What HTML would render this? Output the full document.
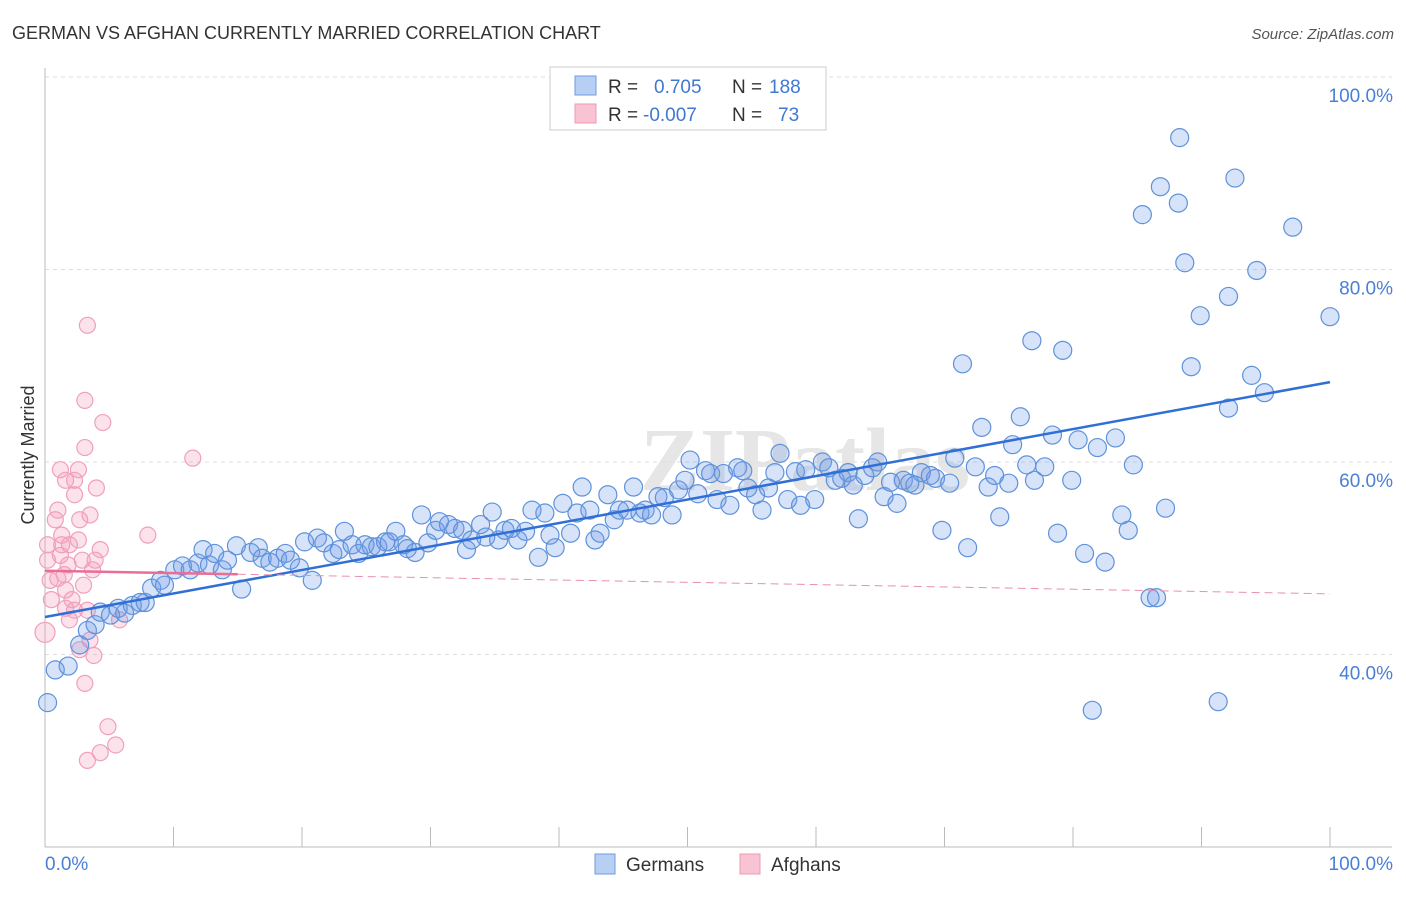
<!DOCTYPE html>
<html><head><meta charset="utf-8"><style>
body{margin:0;background:#fff;font-family:"Liberation Sans",sans-serif;}
</style></head><body>
<svg width="1406" height="892" xmlns="http://www.w3.org/2000/svg" id="chart">
<text x="12" y="39" font-size="18" fill="#333">GERMAN VS AFGHAN CURRENTLY MARRIED CORRELATION CHART</text>
<text x="1394" y="39" font-size="15" fill="#555" text-anchor="end" font-style="italic">Source: ZipAtlas.com</text>
<text x="640" y="490" font-size="90" fill="#e6e6e6" font-family="Liberation Serif" font-weight="bold">ZIPatlas</text>
<text transform="translate(34,455) rotate(-90)" font-size="18" fill="#333" text-anchor="middle">Currently Married</text>
<g id="grid"></g><g id="marks"></g><g id="trends"></g>
<g>
<rect x="550" y="67" width="276" height="63" fill="#fff" stroke="#ccc"/>
<rect x="575" y="76" width="21" height="19" fill="#b7cff3" stroke="#6d9be0"/>
<rect x="575" y="104" width="21" height="19" fill="#f8c3d3" stroke="#ef9ab5"/>
<text x="608" y="93" font-size="19" fill="#333">R = <tspan fill="#3f78d1" x="654">0.705</tspan><tspan x="732" fill="#333">N = </tspan><tspan fill="#3f78d1" x="769">188</tspan></text>
<text x="608" y="121" font-size="19" fill="#333">R = <tspan fill="#3f78d1" x="643">-0.007</tspan><tspan x="732" fill="#333">N = </tspan><tspan fill="#3f78d1" x="778">73</tspan></text>
</g>
<g>
<rect x="595" y="854" width="20" height="20" fill="#b7cff3" stroke="#6d9be0"/>
<text x="626" y="871" font-size="19" fill="#333">Germans</text>
<rect x="740" y="854" width="20" height="20" fill="#f8c3d3" stroke="#ef9ab5"/>
<text x="771" y="871" font-size="19" fill="#333">Afghans</text>
</g>
</svg>
<script>
const yTicks=[40,60,80,100];
const xTickLabels=["0.0%","100.0%"];
const germansX=[0.2,0.8,1.8,2.7,3.3,3.9,4.3,5.1,5.7,6.2,6.8,7.4,7.8,8.3,9.0,9.3,10.1,10.7,11.3,11.9,12.3,12.8,13.2,13.8,14.2,14.9,15.3,16.0,16.6,16.9,17.5,18.1,18.7,19.1,19.8,20.2,20.8,21.2,21.7,22.4,22.9,23.3,23.9,24.4,24.9,25.4,25.9,26.5,26.8,27.3,27.9,28.2,28.8,29.3,29.8,30.4,30.7,31.4,31.9,32.5,32.8,33.2,33.9,34.3,34.8,35.3,35.8,36.3,36.8,37.4,37.9,38.4,38.9,39.3,39.7,40.3,40.9,41.4,41.8,42.4,42.8,43.2,43.8,44.3,44.7,45.3,45.8,46.3,46.7,47.2,47.7,48.2,48.8,49.3,49.8,50.2,50.8,51.4,51.8,52.3,52.8,53.3,53.9,54.3,54.7,55.3,55.8,56.3,56.8,57.2,57.8,58.4,58.8,59.2,59.9,60.5,61.0,61.5,62.0,62.5,62.9,63.3,63.8,64.4,64.8,65.3,65.8,66.3,66.8,67.3,67.7,68.2,68.9,69.3,69.8,70.4,70.8,71.4,71.8,72.4,72.9,73.4,73.9,74.3,75.0,75.3,75.9,76.4,76.8,77.0,77.8,78.4,78.8,79.2,79.9,80.4,80.9,81.5,81.9,82.5,83.3,83.8,84.3,84.7,85.4,86.0,86.5,86.8,87.2,88.2,88.3,88.7,89.2,89.9,91.3,92.1,92.1,92.6,93.9,94.3,94.9,97.1,100.0];
const germansY=[35.0,38.4,38.8,41.0,42.5,43.1,44.4,44.1,44.8,44.3,45.1,45.4,45.4,46.9,47.7,47.2,48.8,49.2,48.8,49.5,50.9,49.3,50.5,48.8,49.8,51.3,46.8,50.6,51.1,50.0,49.6,50.0,50.5,49.8,49.0,51.7,47.7,52.1,51.6,50.5,50.9,52.8,51.4,50.5,51.4,51.2,51.2,51.7,51.7,52.8,51.4,51.0,50.6,54.5,51.6,52.9,53.8,53.5,53.1,52.9,50.9,51.9,53.5,52.2,54.8,51.9,52.9,53.1,51.9,52.8,55.0,50.1,54.7,52.4,51.1,55.7,52.6,54.7,57.4,55.0,51.9,52.6,56.6,54.0,55.0,55.0,57.4,54.7,55.0,54.5,56.4,56.3,54.5,57.1,58.1,60.2,56.7,59.1,58.8,56.1,58.8,55.5,59.4,59.1,57.3,56.6,55.0,57.3,58.9,60.9,56.1,59.0,55.5,59.2,56.1,60.0,59.4,58.1,58.3,58.9,57.6,54.1,58.6,59.4,60.0,56.4,57.9,55.7,58.1,57.8,57.6,58.9,58.6,58.3,52.9,57.8,60.4,70.2,51.1,59.5,63.6,57.4,58.6,54.3,57.8,61.8,64.7,59.7,72.6,58.1,59.5,62.8,52.6,71.6,58.1,62.3,50.5,34.2,61.5,49.6,62.5,54.5,52.9,59.7,85.7,45.9,45.9,88.6,55.2,86.9,93.7,80.7,69.9,75.2,35.1,77.2,65.6,89.5,69.0,79.9,67.2,84.4,75.1];
const afghansX=[0.0,0.2,0.4,0.5,0.2,0.8,1.0,1.2,1.3,1.5,1.6,1.8,1.9,2.1,2.3,2.3,2.6,2.6,2.7,2.9,3.0,3.1,3.1,3.3,3.3,3.5,3.7,3.8,4.0,3.1,3.3,4.3,4.5,4.9,5.5,8.0,11.5,1.3,1.9,1.6,1.0,2.3,2.7,3.5,3.9,4.3,1.2,1.6,5.8];
const afghansY=[42.3,49.8,47.7,45.7,51.4,54.0,55.0,50.3,52.4,48.3,46.7,49.3,51.4,45.7,56.6,58.1,59.2,51.9,54.0,49.8,47.2,61.5,66.4,74.2,44.6,41.5,48.8,39.9,57.3,37.0,29.0,29.8,64.1,32.5,30.6,52.4,60.4,51.4,43.6,44.8,47.9,44.6,40.5,54.5,49.8,50.9,59.2,58.1,43.6];
const germanTrend=[43.9,68.3];
const afghanTrend=[48.7,46.3];
const NS="http://www.w3.org/2000/svg";
const X=v=>45+v*12.85, Y=v=>847-(v-20)*9.625;
function mk(t,a,p){const e=document.createElementNS(NS,t);for(const k in a)e.setAttribute(k,a[k]);p.appendChild(e);return e;}
const grid=document.getElementById('grid');
yTicks.forEach(t=>{
 const l=mk('line',{x1:45,x2:1392,y1:Y(t),y2:Y(t),stroke:'#ddd','stroke-dasharray':'4,4'},grid);
 
 
 const tx=mk('text',{x:1393,y:Y(t)+25,'font-size':19,fill:'#4a7fd4','text-anchor':'end'},grid);
 tx.textContent=t.toFixed(1)+'%';
 
 
});
const ax=mk('line',{x1:45,x2:1392,y1:847,y2:847,stroke:'#bbb'},grid);


const ay=mk('line',{x1:45,x2:45,y1:68,y2:847,stroke:'#bbb'},grid);


for(let i=0;i<=10;i++){const tk=mk('line',{x1:X(i*10),x2:X(i*10),y1:827,y2:847,stroke:'#bbb'},grid);
 
 }
[[0,'start',45],[1,'end',1393]].forEach(([i,a,x])=>{const t=mk('text',{x:x,y:870,'font-size':19,fill:'#4a7fd4','text-anchor':a},grid);t.textContent=xTickLabels[i];
 
 });
const marks=document.getElementById('marks');
afghansX.forEach((v,i)=>{const c=mk('circle',{cx:X(v),cy:Y(afghansY[i]),r:i==0?10:8,fill:'rgba(244,160,188,0.3)',stroke:'#f0a0ba','stroke-width':1.2},marks);
 
 });
germansX.forEach((v,i)=>{const c=mk('circle',{cx:X(v),cy:Y(germansY[i]),r:9,fill:'rgba(110,155,230,0.28)',stroke:'#5f92db','stroke-width':1.2},marks);
 
 });
const tr=document.getElementById('trends');
const bt=mk('line',{x1:X(0),y1:Y(germanTrend[0]),x2:X(100),y2:Y(germanTrend[1]),stroke:'#2f6fd6','stroke-width':2.5},tr);


const pa=v=>afghanTrend[0]+(afghanTrend[1]-afghanTrend[0])*v/100;
const ps=mk('line',{x1:X(0),y1:Y(pa(0)),x2:X(15),y2:Y(pa(15)),stroke:'#ea6d95','stroke-width':2.5},tr);


const pd=mk('line',{x1:X(15),y1:Y(pa(15)),x2:X(100),y2:Y(pa(100)),stroke:'#ea8fad','stroke-width':1,'stroke-dasharray':'8,5'},tr);


</script>
</body></html>
